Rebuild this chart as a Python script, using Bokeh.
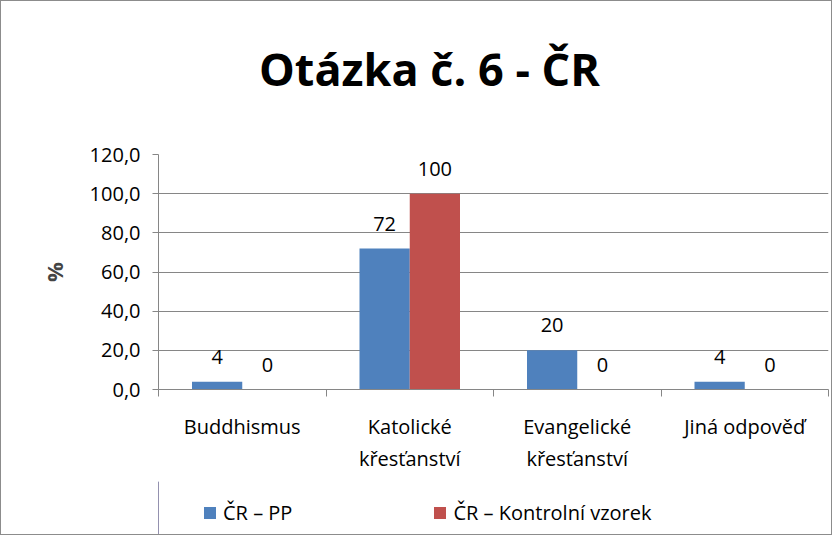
from bokeh.plotting import figure
from bokeh.layouts import column
from bokeh.models import (Range1d, FixedTicker, CustomJSTickFormatter, ColumnDataSource,
                          LabelSet, Label, Legend, LegendItem)
from bokeh.core.properties import value
from bokeh.transform import dodge
from bokeh.embed import file_html
from bokeh.resources import INLINE

title_text = "Otázka č. 6 - ČR"
categories = ["Buddhismus", "Katolické\nkřesťanství", "Evangelické\nkřesťanství", "Jiná odpověď"]
series_names = ["ČR – PP", "ČR – Kontrolní vzorek"]
pp_values = [4, 72, 20, 4]
control_values = [0, 100, 0, 0]
y_ticks = [0, 20, 40, 60, 80, 100, 120]

FONT = "Open Sans"
BLUE = "#4F81BD"
RED = "#C0504D"
GRAY = "#868686"
FS = "20px"
W = 830

x_pos = [i + 0.5 for i in range(len(categories))]
src = ColumnDataSource(dict(
    x=x_pos, pp=pp_values, ctl=control_values,
    pp_lbl=[str(v) for v in pp_values], ctl_lbl=[str(v) for v in control_values],
))

# ---- title strip ----
TH = 110
tp = figure(width=W, height=TH, output_backend="svg", toolbar_location=None,
            x_range=Range1d(0, 670), y_range=Range1d(0, TH),
            x_axis_location=None, y_axis_location=None,
            min_border_left=0, min_border_right=0, min_border_top=0, min_border_bottom=0)
tp.grid.visible = False
tp.outline_line_color = None
tp.add_layout(Label(x=271, y=TH - 67, text=title_text, text_align="center",
                    text_baseline="middle", text_font=FONT, text_font_size="45px",
                    text_font_style="bold", text_color="black"))

# ---- main chart ----
p = figure(width=W, height=370, output_backend="svg", toolbar_location=None,
           x_range=Range1d(0, len(categories)), y_range=Range1d(0, 120),
           min_border_left=157, min_border_right=3, min_border_top=43, min_border_bottom=92)
p.outline_line_color = None

r1 = p.vbar(x=dodge("x", -0.15, range=p.x_range), top="pp", width=0.3, source=src,
            fill_color=BLUE, line_color=None)
r2 = p.vbar(x=dodge("x", 0.15, range=p.x_range), top="ctl", width=0.3, source=src,
            fill_color=RED, line_color=None)

for field, lbl, off in [("pp", "pp_lbl", -0.15), ("ctl", "ctl_lbl", 0.15)]:
    p.add_layout(LabelSet(x=dodge("x", off, range=p.x_range), y=field, text=lbl, source=src,
                          text_align="center", text_baseline="bottom", y_offset=18,
                          text_font=value(FONT), text_font_size=value(FS), text_color="black"))

ya = p.yaxis[0]
ya.ticker = FixedTicker(ticks=y_ticks)
ya.major_label_overrides = {t: f"{t},0" for t in y_ticks}
ya.axis_label = "%"
ya.axis_label_text_font = FONT
ya.axis_label_text_font_size = "22px"
ya.axis_label_text_font_style = "bold"
ya.axis_label_standoff = 18
ya.major_label_text_font = FONT
ya.major_label_text_font_size = FS
ya.major_label_text_color = "black"
ya.major_label_standoff = 12
ya.axis_line_color = GRAY
ya.major_tick_line_color = GRAY
ya.major_tick_out = 6
ya.major_tick_in = 0
ya.minor_tick_line_color = None

xa = p.xaxis[0]
xa.ticker = FixedTicker(ticks=x_pos, minor_ticks=list(range(len(categories) + 1)))
xa.formatter = CustomJSTickFormatter(args=dict(labels=categories),
                                     code="return labels[Math.floor(tick)];")
xa.major_tick_line_color = None
xa.minor_tick_line_color = GRAY
xa.minor_tick_out = 7
xa.minor_tick_in = 0
xa.axis_line_color = GRAY
xa.major_label_text_font = FONT
xa.major_label_text_font_size = FS
xa.major_label_text_color = "black"
xa.major_label_standoff = 16

p.xgrid.visible = False
p.ygrid.grid_line_color = GRAY
p.ygrid.ticker = FixedTicker(ticks=y_ticks)

# ---- legend strip (zero-width bars outside its view; only the legend shows) ----
lp = figure(width=W, height=53, output_backend="svg", toolbar_location=None,
            x_range=Range1d(100, 101), y_range=Range1d(0, 1),
            x_axis_location=None, y_axis_location=None,
            min_border_left=0, min_border_right=0, min_border_top=0, min_border_bottom=0)
lp.grid.visible = False
lp.outline_line_color = None
lr1 = lp.vbar(x="x", top="pp", width=0, source=src, fill_color=BLUE, line_color=None)
lr2 = lp.vbar(x="x", top="ctl", width=0, source=src, fill_color=RED, line_color=None)
lg = Legend(items=[LegendItem(label=series_names[0], renderers=[lr1]),
                   LegendItem(label=series_names[1], renderers=[lr2])],
            orientation="horizontal", location=(44, 8), spacing=140,
            border_line_color=None, background_fill_alpha=0, padding=0, margin=0,
            glyph_width=15, glyph_height=15, label_standoff=6,
            label_text_font=FONT, label_text_font_size=FS, label_text_color="black")
lp.add_layout(lg, "center")

layout = column(tp, p, lp, spacing=0)
layout.styles = {"border": "1px solid #8c8c8c"}

open("out.html", "w").write(file_html(layout, INLINE))
